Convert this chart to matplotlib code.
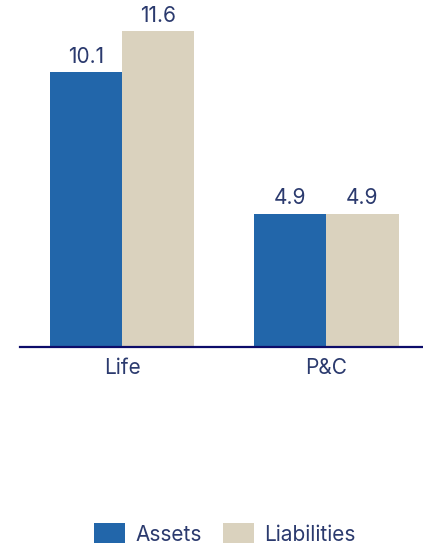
import matplotlib
matplotlib.use("Agg")
import matplotlib.pyplot as plt
import numpy as np
from matplotlib.patches import Patch

categories = ["Life", "P&C"]
assets = [10.1, 4.9]
liabilities = [11.6, 4.9]
series_names = ["Assets", "Liabilities"]

ASSET_COLOR = "#2266aa"
LIAB_COLOR = "#dad2be"
TEXT_COLOR = "#2b3a6e"
AXIS_COLOR = "#0c0c6a"
FS = 15

plt.rcParams["font.family"] = ["Inter", "DejaVu Sans"]

fig = plt.figure(figsize=(4.23, 5.46), dpi=100)
ax = fig.add_axes([20 / 423, 1 - 347 / 546, 403 / 423, 340 / 546])

x = np.arange(len(categories))
w = 0.355
b1 = ax.bar(x - w / 2, assets, width=w, color=ASSET_COLOR)
b2 = ax.bar(x + w / 2, liabilities, width=w, color=LIAB_COLOR)

for bars, vals in ((b1, assets), (b2, liabilities)):
    for bar, v in zip(bars, vals):
        ax.annotate(f"{v:.1f}", (bar.get_x() + bar.get_width() / 2, v),
                    xytext=(0, 4), textcoords="offset points",
                    ha="center", va="bottom", fontsize=FS, color=TEXT_COLOR)

ax.set_xlim(-0.5, 1.475)
ax.set_ylim(0, 12.5)
ax.set_xticks(x)
ax.set_xticklabels(categories, fontsize=FS, color=TEXT_COLOR)
ax.tick_params(axis="x", length=0, pad=8)
ax.set_yticks([])
for s in ("top", "right", "left"):
    ax.spines[s].set_visible(False)
ax.spines["bottom"].set_color(AXIS_COLOR)
ax.spines["bottom"].set_linewidth(1.6)

handles = [Patch(facecolor=ASSET_COLOR), Patch(facecolor=LIAB_COLOR)]
leg = fig.legend(handles, series_names, loc="center", ncol=2,
                 bbox_to_anchor=(225 / 423, 1 - 534 / 546), frameon=False,
                 fontsize=FS, handlelength=1.5, handleheight=1.1,
                 handletextpad=0.5, columnspacing=1.0)
for t in leg.get_texts():
    t.set_color(TEXT_COLOR)

fig.savefig("out.png", dpi=100)
